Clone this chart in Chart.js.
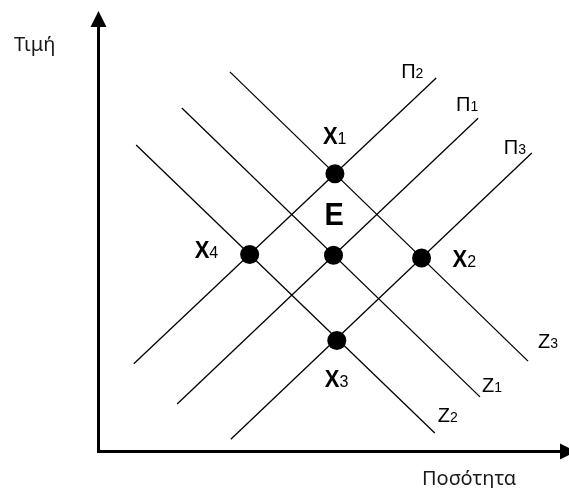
<!DOCTYPE html>
<html>
<head>
<meta charset="utf-8">
<script src="https://cdn.jsdelivr.net/npm/chart.js@4/dist/chart.umd.min.js"></script>
<style>
  html, body { margin: 0; padding: 0; background: #ffffff; }
  canvas { display: block; }
</style>
</head>
<body>
<canvas id="c" width="569" height="488"></canvas>
<script>
// ---- Data (quantity x, price y in arbitrary units) ----
const axisTitleX = 'Ποσότητα';
const axisTitleY = 'Τιμή';

// Supply curves Π (two end points each)
const supplyNames = ['Π', 'Π', 'Π'];
const supplySubs  = ['1', '2', '3'];
const supplyQ = [[1.68, 8.07], [0.76, 7.18], [2.82, 9.21]];
const supplyP = [[1.09, 7.57], [2.00, 8.48], [0.29, 6.78]];

// Demand curves Z (two end points each)
const demandNames = ['Z', 'Z', 'Z'];
const demandSubs  = ['1', '2', '3'];
const demandQ = [[1.78, 8.11], [0.81, 7.15], [2.80, 9.13]];
const demandP = [[7.80, 1.25], [6.96, 0.43], [8.62, 2.06]];

// Equilibrium points
const eqNames = ['E', 'X', 'X', 'X', 'X'];
const eqSubs  = ['', '1', '2', '3', '4'];
const eqQ = [5.00, 5.03, 6.87, 5.07, 3.22];
const eqP = [4.46, 6.31, 4.40, 2.53, 4.48];

// ---- Build datasets ----
function pts(qs, ps) { return qs.map((q, i) => ({ x: q, y: ps[i] })); }

const datasets = [];
datasets.push({
  label: 'points',
  data: pts(eqQ, eqP),
  showLine: false,
  pointRadius: 9.5,
  pointHoverRadius: 9.5,
  pointBackgroundColor: '#000',
  pointBorderWidth: 0,
  borderColor: '#000'
});
supplyQ.forEach((q, i) => datasets.push({
  label: supplyNames[i] + supplySubs[i],
  data: pts(q, supplyP[i]),
  showLine: true, borderColor: '#000', borderWidth: 1.3, pointRadius: 0
}));
demandQ.forEach((q, i) => datasets.push({
  label: demandNames[i] + demandSubs[i],
  data: pts(q, demandP[i]),
  showLine: true, borderColor: '#000', borderWidth: 1.3, pointRadius: 0
}));

// ---- label layout (pixel offsets from anchors) ----
const eqLabelOffsets = [[-9, -30], [-12, -30], [31, 9], [-12, 47], [-55, 4]];
const supplyLabelOffsets = [[-22, -7], [-35, 0], [-28, 1]];   // from upper end
const demandLabelOffsets = [[2, -5], [3, -11], [10, -13]];    // from lower end

function drawLabel(ctx, x, y, main, sub, mainFont, subFont, sy) {
  ctx.save();
  ctx.translate(x, y);
  ctx.scale(1, sy || 1);
  ctx.font = mainFont;
  ctx.textAlign = 'left';
  ctx.textBaseline = 'alphabetic';
  ctx.fillStyle = '#000';
  ctx.fillText(main, 0, 0);
  const w = ctx.measureText(main).width;
  ctx.restore();
  if (sub) {
    ctx.save();
    ctx.font = subFont;
    ctx.fillStyle = '#000';
    ctx.textBaseline = 'alphabetic';
    ctx.fillText(sub, x + w, y);
    ctx.restore();
  }
}

const diagramPlugin = {
  id: 'diagram',
  beforeDatasetsDraw(chart) {
    const { ctx, scales: { x, y } } = chart;
    const x0 = x.getPixelForValue(0), y0 = y.getPixelForValue(0);
    const yTop = y.getPixelForValue(10), xRight = x.getPixelForValue(10);
    ctx.save();
    ctx.strokeStyle = '#000';
    ctx.fillStyle = '#000';
    ctx.lineWidth = 3;
    ctx.lineCap = 'butt';
    // vertical axis
    ctx.beginPath();
    ctx.moveTo(x0 + 0.5, y0 + 1);
    ctx.lineTo(x0 + 0.5, yTop + 14);
    ctx.stroke();
    ctx.beginPath();
    ctx.moveTo(x0 + 0.5, yTop);
    ctx.lineTo(x0 - 7.5, yTop + 16);
    ctx.lineTo(x0 + 8.5, yTop + 16);
    ctx.closePath();
    ctx.fill();
    // horizontal axis
    ctx.beginPath();
    ctx.moveTo(x0 - 1, y0 - 0.5);
    ctx.lineTo(xRight - 8, y0 - 0.5);
    ctx.stroke();
    ctx.beginPath();
    ctx.moveTo(xRight + 7, y0 - 0.5);
    ctx.lineTo(xRight - 9, y0 - 8.5);
    ctx.lineTo(xRight - 9, y0 + 7.5);
    ctx.closePath();
    ctx.fill();
    ctx.restore();
  },
  afterDatasetsDraw(chart) {
    const { ctx, scales: { x, y } } = chart;
    const x0 = x.getPixelForValue(0), y0 = y.getPixelForValue(0);
    // axis titles
    ctx.save();
    ctx.fillStyle = '#1a1a1a';
    ctx.font = '20px "Noto Sans"';
    ctx.textBaseline = 'alphabetic';
    ctx.fillText(axisTitleY, x0 - 84, 51);
    ctx.fillText(axisTitleX, 422, y0 + 33);
    ctx.restore();
    // supply labels
    supplyQ.forEach((q, i) => {
      const px = x.getPixelForValue(q[1]), py = y.getPixelForValue(supplyP[i][1]);
      const o = supplyLabelOffsets[i];
      drawLabel(ctx, px + o[0], py + o[1], supplyNames[i], supplySubs[i],
        '20px "Liberation Sans"', '14px "Liberation Sans"', 1.05);
    });
    // demand labels
    demandQ.forEach((q, i) => {
      const px = x.getPixelForValue(q[1]), py = y.getPixelForValue(demandP[i][1]);
      const o = demandLabelOffsets[i];
      drawLabel(ctx, px + o[0], py + o[1], demandNames[i], demandSubs[i],
        '20px "Liberation Sans"', '14px "Liberation Sans"', 1.05);
    });
    // equilibrium labels
    eqQ.forEach((q, i) => {
      const px = x.getPixelForValue(q), py = y.getPixelForValue(eqP[i]);
      const o = eqLabelOffsets[i];
      if (eqNames[i] === 'E') {
        drawLabel(ctx, px + o[0], py + o[1], eqNames[i], '', 'bold 29px "Liberation Sans"', '', 1.05);
      } else {
        drawLabel(ctx, px + o[0], py + o[1], eqNames[i], eqSubs[i],
          'bold 22px "Liberation Sans"', '16px "Liberation Sans"', 1.08);
      }
    });
  }
};

new Chart(document.getElementById('c'), {
  type: 'scatter',
  data: { datasets },
  options: {
    responsive: false,
    devicePixelRatio: 1,
    animation: false,
    clip: false,
    layout: { autoPadding: false, padding: { left: 98, right: 0, top: 11, bottom: 36 } },
    plugins: { legend: { display: false }, tooltip: { enabled: false } },
    events: [],
    scales: {
      x: { type: 'linear', min: 0, max: 10, display: false },
      y: { type: 'linear', min: 0, max: 10, display: false }
    }
  },
  plugins: [diagramPlugin]
});
</script>
</body>
</html>
